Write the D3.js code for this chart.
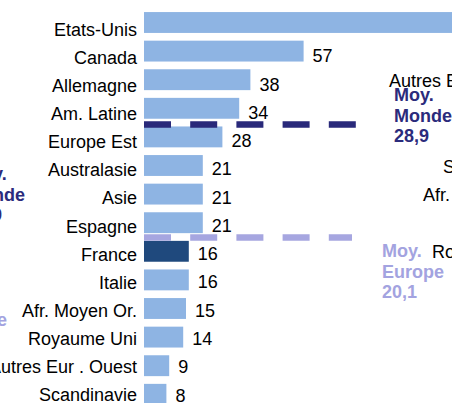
<!DOCTYPE html>
<html>
<head>
<meta charset="utf-8">
<script src="https://cdn.jsdelivr.net/npm/d3@7"></script>
<style>
body { margin: 0; background: #fff; }
svg { display: block; font-family: Arial, "Liberation Sans", sans-serif; }
</style>
</head>
<body>
<div id="chart"></div>
<script>
// data
var categories = ["Etats-Unis", "Canada", "Allemagne", "Am. Latine", "Europe Est", "Australasie",
  "Asie", "Espagne", "France", "Italie", "Afr. Moyen Or.", "Royaume Uni", "Autres Eur . Ouest", "Scandinavie"];
var values = [118, 57, 38, 34, 28, 21, 21, 21, 16, 16, 15, 14, 9, 8];
var highlight = "France";

// averages: label lines, value, the category just below the line
var averages = [
  {name: ["Moy.", "Monde", "28,9"], value: 28.9, below: "Europe Est"},
  {name: ["Moy.", "Europe", "20,1"], value: 20.1, below: "France"}
];

// labels of a neighbouring chart that overlap this crop
var ghostLabels = ["Autres Eur . Ouest", "Scandinavie", "Afr. Moyen Or.", "Royaume Uni"];

var width = 452, height = 403;

var svg = d3.select("#chart")
  .append("svg")
  .attr("width", width)
  .attr("height", height);

// scales
var x = d3.scaleLinear().domain([0, 100]).range([144, 424]);
var y = d3.scaleBand().domain(categories).range([8.2, 408.6])
  .paddingInner(0.27).paddingOuter(0.135);
// text baselines run on a slightly tighter pitch than the bars
var yCat = d3.scalePoint().domain(categories).range([36, 401]);
var yVal = d3.scalePoint().domain(categories).range([34, 401.5]);

var data = categories.map(function(c, i) { return {cat: c, val: values[i]}; });

// bars
svg.selectAll(".bar")
  .data(data)
  .enter().append("rect")
  .attr("class", "bar")
  .attr("x", x(0))
  .attr("y", function(d) { return y(d.cat); })
  .attr("width", function(d) { return x(d.val) - x(0); })
  .attr("height", y.bandwidth())
  .attr("fill", function(d) { return d.cat === highlight ? "#1f497d" : "#8eb4e3"; });

// category labels
svg.selectAll(".cat")
  .data(data)
  .enter().append("text")
  .attr("x", x(0) - 7)
  .attr("y", function(d) { return yCat(d.cat); })
  .attr("text-anchor", "end")
  .attr("font-size", 18)
  .attr("fill", "#000")
  .text(function(d) { return d.cat; });

// value labels
svg.selectAll(".val")
  .data(data)
  .enter().append("text")
  .attr("x", function(d) { return x(d.val) + 9; })
  .attr("y", function(d) { return yVal(d.cat); })
  .attr("font-size", 18)
  .attr("fill", "#000")
  .text(function(d) { return d3.format(".0f")(d.val); });

// average lines
var avgColors = ["#29297a", "#a6a6e0"];
var lineLen = [212, 208];
averages.forEach(function(a, i) {
  var ly = y(a.below) - y.step() * y.paddingInner() / 2 + (i === 0 ? 2 : 0.5);
  svg.append("line")
    .attr("x1", x(0))
    .attr("x2", x(0) + lineLen[i])
    .attr("y1", ly)
    .attr("y2", ly)
    .attr("stroke", avgColors[i])
    .attr("stroke-width", 6.5)
    .attr("stroke-dasharray", "27 19.2");
});

// overlapping labels from the neighbouring chart
var ghostPos = [[389, 87], [443, 173], [423, 201], [432, 258]];
svg.selectAll(".ghost")
  .data(ghostLabels)
  .enter().append("text")
  .attr("x", function(d, i) { return ghostPos[i][0]; })
  .attr("y", function(d, i) { return ghostPos[i][1]; })
  .attr("font-size", 18)
  .attr("fill", "#000")
  .text(function(d) { return d; });

// average labels (right copy and clipped left copy)
var labelPos = [
  [[394, 101], [-33, 180]],
  [[382, 257], [-55, 305]]
];
var labelColors = ["#2b2b7c", "#a3a3e0"];
averages.forEach(function(a, i) {
  labelPos[i].forEach(function(p) {
    var t = svg.append("text")
      .attr("x", p[0])
      .attr("y", p[1])
      .attr("font-size", 18)
      .attr("font-weight", "bold")
      .attr("fill", labelColors[i]);
    t.selectAll("tspan")
      .data(a.name)
      .enter().append("tspan")
      .attr("x", p[0])
      .attr("dy", function(d, k) { return k === 0 ? 0 : 20.5; })
      .text(function(d) { return d; });
  });
});
</script>
</body>
</html>
